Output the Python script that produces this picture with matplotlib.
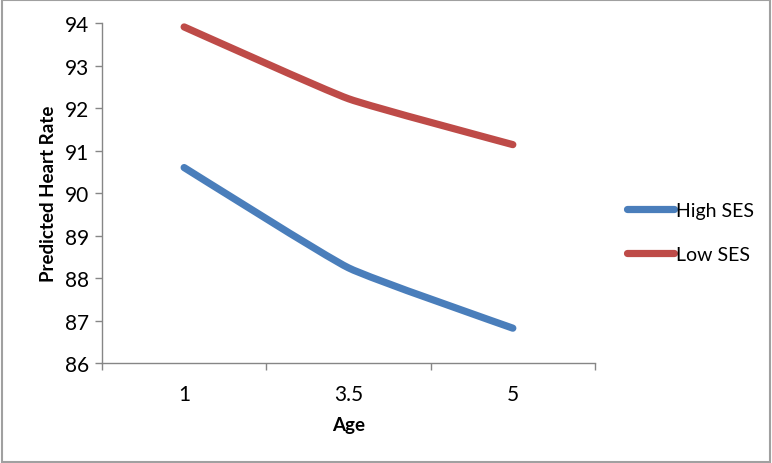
import numpy as np
import matplotlib
matplotlib.use('Agg')
import matplotlib.pyplot as plt
from matplotlib.path import Path
from matplotlib.patches import PathPatch
from matplotlib.lines import Line2D

plt.rcParams['font.family'] = ['Lato', 'DejaVu Sans']

# data
ages = ['1', '3.5', '5']
high_ses = [90.60, 88.24, 86.82]
low_ses = [93.91, 92.22, 91.14]

series = [('High SES', high_ses, '#4A7EBB'), ('Low SES', low_ses, '#BE4B48')]


def smooth_path(xs, ys, t=0.07):
    # lightly smoothed line, cubic Bezier segments through the points
    pts = np.column_stack([xs, ys])
    verts = [pts[0]]
    codes = [Path.MOVETO]
    n = len(pts)
    for i in range(n - 1):
        p0 = pts[max(i - 1, 0)]
        p1 = pts[i]
        p2 = pts[i + 1]
        p3 = pts[min(i + 2, n - 1)]
        c1 = p1 + (p2 - p0) * t
        c2 = p2 - (p3 - p1) * t
        verts += [c1, c2, p2]
        codes += [Path.CURVE4] * 3
    return Path(verts, codes)


fig = plt.figure(figsize=(7.72, 4.64), dpi=100)
ax = fig.add_axes([0.1321, 0.2155, 0.6386, 0.7325])

x = np.arange(len(ages))
handles = []
for name, vals, col in series:
    patch = PathPatch(smooth_path(x, vals), facecolor='none', edgecolor=col,
                      lw=5.2, capstyle='round', joinstyle='round')
    ax.add_patch(patch)
    handles.append(Line2D([], [], color=col, lw=5.2, solid_capstyle='round', label=name))

ax.set_xlim(-0.5, len(ages) - 0.5)
ax.set_ylim(86, 94)
ax.set_yticks(range(86, 95))
ax.set_xticks(x)
ax.set_xticklabels(ages)
ax.set_xticks(np.arange(-0.5, len(ages)), minor=True)
ax.tick_params(axis='x', which='major', length=0, pad=15, labelsize=15)
ax.tick_params(axis='x', which='minor', length=5, color='#868686', width=1)
ax.tick_params(axis='y', length=5, color='#868686', width=1, labelsize=15, pad=4)

for s in ['top', 'right']:
    ax.spines[s].set_visible(False)
for s in ['left', 'bottom']:
    ax.spines[s].set_color('#868686')
    ax.spines[s].set_linewidth(1)

ax.set_xlabel('Age', fontsize=13.5, fontweight='bold', labelpad=9)
ax.set_ylabel('Predicted Heart Rate', fontsize=13.5, fontweight='bold', labelpad=6)

fig.legend(handles=handles, loc='center left', bbox_to_anchor=(0.79, 0.497),
           frameon=False, fontsize=14, handlelength=2.4, handletextpad=0.1,
           labelspacing=1.35)

# chart border
fig.patches.append(plt.Rectangle((0.002, 0.003), 0.996, 0.994, transform=fig.transFigure,
                                 fill=False, edgecolor='#A0A0A0', lw=1.5))

fig.savefig('out.png', dpi=100)
